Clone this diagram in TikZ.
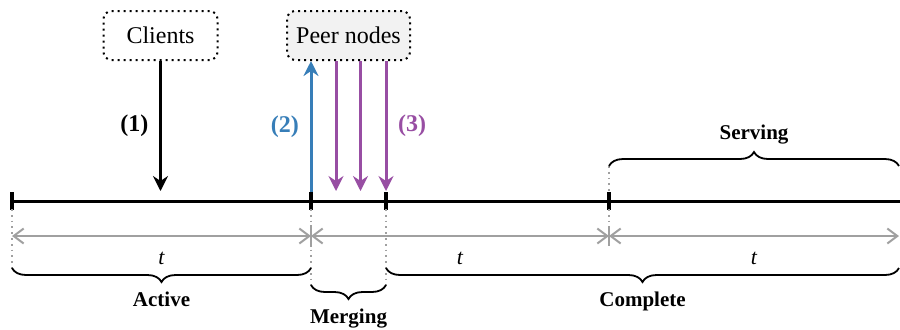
\documentclass[tikz,border=0pt]{standalone}
\usepackage{fontspec}
\setmainfont{Liberation Serif}
\usetikzlibrary{arrows.meta,decorations.pathreplacing}
\definecolor{cblue}{HTML}{377EB8}
\definecolor{cpurple}{HTML}{984EA3}
\definecolor{cgray}{HTML}{A0A0A0}
\definecolor{cfill}{HTML}{F2F2F2}
\tikzset{
  boxnode/.style={draw, dotted, line width=1pt, rounded corners=4pt, minimum height=24.5pt, font=\fontsize{12}{14}\selectfont},
  msgarrow/.style={line width=1.5pt, -{Stealth[length=7.5pt,width=7.5pt,inset=2.5pt]}},
  timeline/.style={line width=1.5pt},
  tick/.style={line width=2pt},
  guide/.style={cgray, dotted, line width=0.9pt},
  meet/.style={cgray, line width=0.8pt},
  dimline/.style={cgray, line width=1pt, {Straight Barb[length=5pt,width=7.5pt]}-{Straight Barb[length=5pt,width=7.5pt]}},
  bracebelow/.style={decorate, decoration={brace, mirror, amplitude=7pt}, line width=0.9pt},
  braceabove/.style={decorate, decoration={brace, amplitude=7pt}, line width=0.9pt},
  lbl/.style={font=\fontsize{10.5}{12}\selectfont\bfseries},
  tlbl/.style={text=black, font=\fontsize{11}{13}\selectfont\itshape},
  numlbl/.style={font=\fontsize{12}{14}\selectfont\bfseries}
}
\begin{document}
\begin{tikzpicture}[x=0.5pt,y=-0.5pt]
\useasboundingbox (0,0) rectangle (900,329);
% nodes
\node[boxnode, minimum width=57pt] (clients) at (160.5,35.5) {Clients};
\node[boxnode, fill=cfill, minimum width=61.5pt] (peers) at (348.5,35.5) {Peer nodes};
% timeline coordinates
\coordinate (t0) at (12,201);
\coordinate (t1) at (311,201);
\coordinate (t2) at (386,201);
\coordinate (t3) at (609,201);
\coordinate (tend) at (900,201);
\draw[timeline] (t0) -- (tend);
\foreach \p in {t0,t1,t2,t3}{\draw[tick] ([yshift=4.5pt]\p) -- ([yshift=-4.5pt]\p);}
% guides
\draw[guide] ([yshift=-4pt]t0) -- ++(0,62);
\draw[guide] ([yshift=-4pt]t1) -- ++(0,80);
\draw[guide] ([yshift=-4pt]t2) -- ++(0,80);
\draw[guide] (609,166) -- ([yshift=4.5pt]t3);
\draw[guide] ([yshift=-4pt]t3) -- (609,226);
% dimension lines
\coordinate (d0) at (12,236);
\coordinate (d1) at (311,236);
\coordinate (d3) at (609,236);
\coordinate (d4) at (899,236);
\draw[dimline] (d0) -- node[tlbl, below=4pt] {t} (d1);
\draw[dimline] (d1) -- node[tlbl, below=4pt] {t} (d3);
\draw[dimline] (d3) -- node[tlbl, below=4pt] {t} (d4);
\draw[meet] ([yshift=5.5pt]d1) -- ([yshift=-5.5pt]d1);
\draw[meet] ([yshift=5pt]d3) -- ([yshift=-5pt]d3);
% braces
\draw[bracebelow] (12,268) -- node[lbl, below=8pt] (active) {Active} (311,268);
\draw[bracebelow] (311,285) -- node[lbl, below=8pt] (merging) {Merging} (386,285);
\draw[bracebelow] (386,268) -- node[lbl, below=8pt] (complete) {Complete} (899,268);
\draw[braceabove] (609,166) -- node[lbl, above=7pt] (serving) {Serving} (899,166);
% arrows
\coordinate (a1) at (160.5,191);
\draw[msgarrow] (clients.south) -- node[numlbl, left=2pt] {(1)} (a1);
\coordinate (b0) at (311,192);
\draw[msgarrow, cblue] (b0) -- node[numlbl, left=2pt] {(2)} (b0 |- peers.south);
\coordinate (p1) at (336,191);
\coordinate (p2) at (360.5,191);
\coordinate (p3) at (386,191);
\draw[msgarrow, cpurple] (p1 |- peers.south) -- (p1);
\draw[msgarrow, cpurple] (p2 |- peers.south) -- (p2);
\draw[msgarrow, cpurple] (p3 |- peers.south) -- node[numlbl, right=2pt] {(3)} (p3);
\end{tikzpicture}
\end{document}
